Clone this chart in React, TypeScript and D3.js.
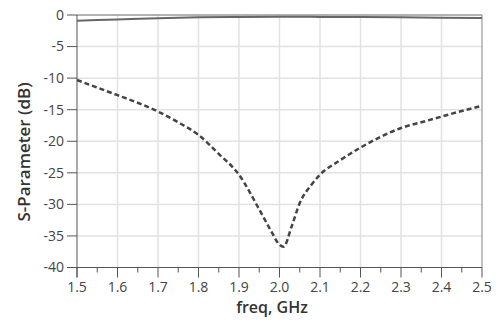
import React, { useEffect, useRef } from 'react';
import * as d3 from 'd3';

const freqS11 = [1.5, 1.55, 1.6, 1.65, 1.7, 1.75, 1.8, 1.85, 1.9, 1.95, 1.98, 2.0, 2.01, 2.03, 2.05, 2.08, 2.1, 2.15, 2.2, 2.25, 2.3, 2.35, 2.4, 2.45, 2.5];
const s11 = [-10.3, -11.5, -12.7, -13.9, -15.3, -17.0, -19.0, -22.0, -25.3, -30.8, -34.3, -36.4, -36.7, -33.5, -29.8, -26.8, -25.3, -23.0, -21.0, -19.3, -17.9, -17.0, -16.1, -15.2, -14.4];

const freqS21 = [1.5, 1.6, 1.7, 1.8, 1.9, 2.0, 2.1, 2.2, 2.3, 2.4, 2.5];
const s21 = [-0.9, -0.7, -0.5, -0.35, -0.3, -0.28, -0.3, -0.33, -0.37, -0.42, -0.48];

const xTicks = [1.5, 1.6, 1.7, 1.8, 1.9, 2.0, 2.1, 2.2, 2.3, 2.4, 2.5];
const yTicks = [0, -5, -10, -15, -20, -25, -30, -35, -40];

export default function App() {
  const svgRef = useRef<SVGSVGElement>(null);

  useEffect(() => {
    if (!svgRef.current) return;
    const svg = d3.select(svgRef.current);
    svg.selectAll('*').remove();

    const x = d3.scaleLinear().domain([1.5, 2.5]).range([77, 482]);
    const y = d3.scaleLinear().domain([0, -40]).range([15, 267.5]);
    const font = '"Open Sans", sans-serif';

    // grid
    const grid = svg.append('g');
    xTicks.slice(1, -1).forEach((t) => {
      grid.append('line')
        .attr('x1', x(t)).attr('x2', x(t))
        .attr('y1', y(0)).attr('y2', y(-40))
        .attr('stroke', '#e2e2e2').attr('stroke-width', 1.5);
    });
    yTicks.slice(1, -1).forEach((t) => {
      grid.append('line')
        .attr('x1', x(1.5)).attr('x2', x(2.5))
        .attr('y1', y(t)).attr('y2', y(t))
        .attr('stroke', '#e2e2e2').attr('stroke-width', 1.5);
    });

    // frame top/right
    svg.append('line')
      .attr('x1', x(1.5)).attr('x2', x(2.5)).attr('y1', y(0)).attr('y2', y(0))
      .attr('stroke', '#999').attr('stroke-width', 1.5);
    svg.append('line')
      .attr('x1', x(2.5)).attr('x2', x(2.5)).attr('y1', y(0)).attr('y2', y(-40))
      .attr('stroke', '#999').attr('stroke-width', 1.2);

    // x axis
    const xAxis = svg.append('g');
    xAxis.append('line')
      .attr('x1', x(1.5)).attr('x2', x(2.5)).attr('y1', y(-40)).attr('y2', y(-40))
      .attr('stroke', '#555').attr('stroke-width', 1);
    d3.range(1.55, 2.5, 0.1).forEach((t) => {
      xAxis.append('line')
        .attr('x1', x(t)).attr('x2', x(t)).attr('y1', y(-40)).attr('y2', y(-40) + 5)
        .attr('stroke', '#555');
    });
    xTicks.forEach((t) => {
      xAxis.append('line')
        .attr('x1', x(t)).attr('x2', x(t)).attr('y1', y(-40)).attr('y2', y(-40) + 10)
        .attr('stroke', '#555');
      xAxis.append('text')
        .attr('x', x(t)).attr('y', 292)
        .attr('text-anchor', 'middle')
        .attr('font-family', font).attr('font-size', 14).attr('fill', '#444')
        .text(t.toFixed(1));
    });

    // y axis
    const yAxis = svg.append('g');
    yAxis.append('line')
      .attr('x1', x(1.5)).attr('x2', x(1.5)).attr('y1', y(0)).attr('y2', y(-40) + 10)
      .attr('stroke', '#555');
    yTicks.forEach((t) => {
      yAxis.append('line')
        .attr('x1', x(1.5) - 10).attr('x2', x(1.5)).attr('y1', y(t)).attr('y2', y(t))
        .attr('stroke', '#555');
      yAxis.append('text')
        .attr('x', 64).attr('y', y(t)).attr('dy', '0.35em')
        .attr('text-anchor', 'end')
        .attr('font-family', font).attr('font-size', 14).attr('fill', '#444')
        .text(t === 0 ? '0' : `-${Math.abs(t)}`);
    });

    // axis titles
    svg.append('text')
      .attr('x', 272).attr('y', 313)
      .attr('text-anchor', 'middle')
      .attr('font-family', font).attr('font-size', 16).attr('font-weight', 600).attr('fill', '#333')
      .text('freq, GHz');
    svg.append('text')
      .attr('transform', `translate(30,152) rotate(-90)`)
      .attr('text-anchor', 'middle')
      .attr('font-family', font).attr('font-size', 17).attr('font-weight', 600).attr('fill', '#333')
      .text('S-Parameter (dB)');

    // curves
    const line = d3.line<[number, number]>()
      .x((d) => x(d[0])).y((d) => y(d[1]))
      .curve(d3.curveMonotoneX);

    svg.append('path')
      .attr('d', line(freqS21.map((f, i) => [f, s21[i]] as [number, number])))
      .attr('fill', 'none').attr('stroke', '#666').attr('stroke-width', 2);

    svg.append('path')
      .attr('d', line(freqS11.map((f, i) => [f, s11[i]] as [number, number])))
      .attr('fill', 'none').attr('stroke', '#444').attr('stroke-width', 2.5)
      .attr('stroke-dasharray', '5,3');
  }, []);

  return (
    <svg ref={svgRef} width={500} height={330}
      style={{ position: 'absolute', left: 0, top: 0, background: '#fff' }} />
  );
}
